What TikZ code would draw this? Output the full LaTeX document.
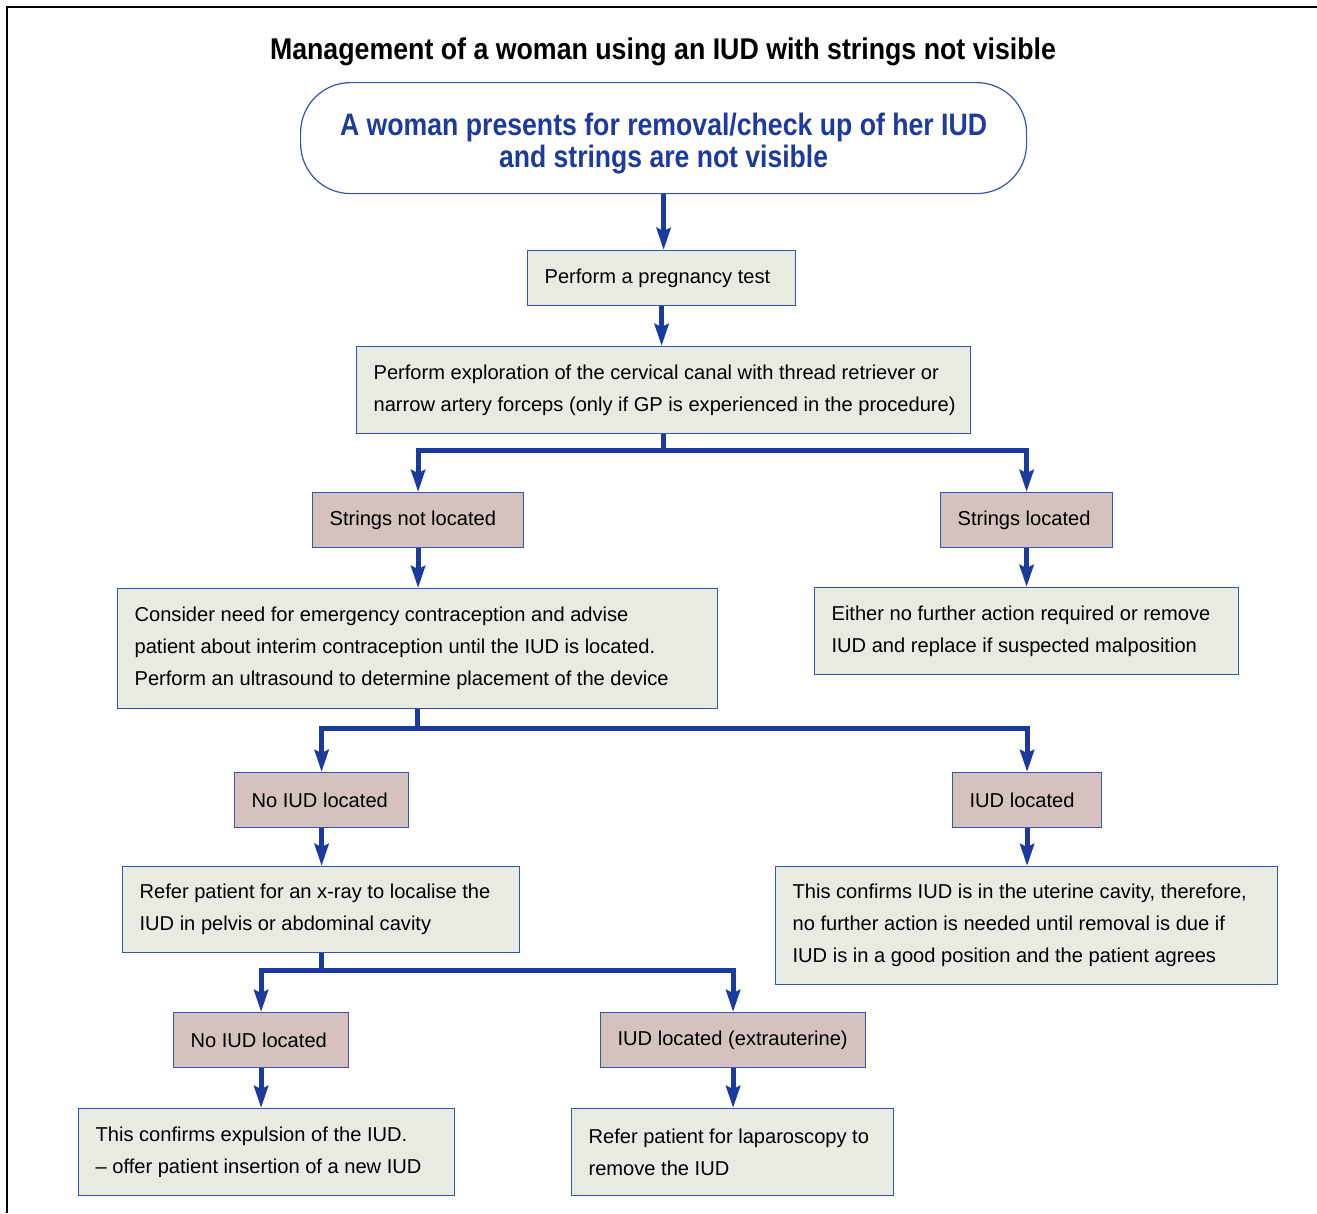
\documentclass[tikz,border=0pt]{standalone}
\usepackage{fontspec}
\setmainfont{Liberation Sans}
\usepackage{graphicx}
\usetikzlibrary{arrows.meta}
\definecolor{lineblue}{HTML}{1B3A9E}
\definecolor{boxline}{HTML}{3355B0}
\definecolor{greenfill}{HTML}{E8EBE2}
\definecolor{pinkfill}{HTML}{D5C2BE}
\definecolor{titleblue}{HTML}{1E3A9C}
\newcommand{\oneline}[1]{\mbox{\spaceskip=0pt\xspaceskip=0pt\relax #1}}
\begin{document}
\begin{tikzpicture}[x=1pt,y=-1pt,
  box/.style={draw=boxline, line width=1.2pt, anchor=north west, align=left,
    inner xsep=17pt, inner ysep=3pt, font=\fontsize{20.1}{32}\selectfont, text=black},
  gbox/.style={box, fill=greenfill},
  pbox/.style={box, fill=pinkfill},
  arr/.style={draw=lineblue, line width=5pt, line join=miter,
    -{Stealth[length=22pt,width=14pt,inset=3pt]}}]
\useasboundingbox (0,0) rectangle (1317,1213);
\draw[line width=1.5pt] (7,1213) -- (7,7) -- (1317,7);

\node[font=\bfseries\fontsize{30}{32}\selectfont] (title) at (663,52)
  {\resizebox{786pt}{\height}{Management of a woman using an IUD with strings not visible}};

\node[draw=boxline, line width=1.2pt, rounded corners=50pt, minimum width=726pt,
  minimum height=111pt, anchor=north west, align=center, text=titleblue,
  font=\bfseries\fontsize{31}{32}\selectfont] (start) at (300,82)
  {\rule{0pt}{33pt}\resizebox{647pt}{\height}{A woman presents for removal/check up of her IUD}\\
   \resizebox{329pt}{\height}{and strings are not visible}};

\node[gbox, text width=234pt, minimum height=55pt] (preg) at (527,250) {\oneline{Perform a pregnancy test}};
\node[gbox, text width=580pt, minimum height=87pt] (expl) at (356,346)
  {\oneline{Perform exploration of the cervical canal with thread retriever or}\\
   \oneline{narrow artery forceps (only if GP is experienced in the procedure)}};
\node[pbox, text width=177pt, minimum height=55pt] (snl) at (312,492) {\oneline{Strings not located}};
\node[pbox, text width=138pt, minimum height=55pt] (sl) at (940,492) {\oneline{Strings located}};
\node[gbox, text width=566pt, minimum height=120pt] (cons) at (117,588)
  {\oneline{Consider need for emergency contraception and advise}\\
   \oneline{patient about interim contraception until the IUD is located.}\\
   \oneline{Perform an ultrasound to determine placement of the device}};
\node[gbox, text width=390pt, minimum height=87pt] (either) at (814,587)
  {\oneline{Either no further action required or remove}\\
   \oneline{IUD and replace if suspected malposition}};
\node[pbox, text width=140pt, minimum height=55pt] (noiud) at (234,772) {\oneline{No IUD located}};
\node[pbox, text width=115pt, minimum height=55pt] (iudl) at (952,772) {\oneline{IUD located}};
\node[gbox, text width=363pt, minimum height=86pt] (xray) at (122,866)
  {\oneline{Refer patient for an x-ray to localise the}\\
   \oneline{IUD in pelvis or abdominal cavity}};
\node[gbox, text width=468pt, minimum height=118pt] (confirm) at (775,866)
  {\oneline{This confirms IUD is in the uterine cavity, therefore,}\\
   \oneline{no further action is needed until removal is due if}\\
   \oneline{IUD is in a good position and the patient agrees}};
\node[pbox, text width=141pt, minimum height=55pt] (noiud2) at (173,1012) {\oneline{No IUD located}};
\node[pbox, text width=231pt, minimum height=55pt] (extra) at (600,1012) {\oneline{IUD located (extrauterine)}};
\node[gbox, text width=342pt, minimum height=87pt] (expul) at (78,1108)
  {\oneline{This confirms expulsion of the IUD.}\\
   \oneline{-- offer patient insertion of a new IUD}};
\node[gbox, text width=288pt, minimum height=87pt] (lap) at (571,1108)
  {\oneline{Refer patient for laparoscopy to}\\
   \oneline{remove the IUD}};

\draw[arr] (start.south) -- (start.south |- preg.north);
\draw[arr] (preg.south) -- (preg.south |- expl.north);
\draw[arr] (expl.south) -- ++(0,16) -| (snl.north);
\draw[arr] (expl.south) -- ++(0,16) -| (sl.north);
\draw[arr] (snl.south) -- (snl.south |- cons.north);
\draw[arr] (sl.south) -- (sl.south |- either.north);
\draw[arr] (cons.south) -- ++(0,19) -| (noiud.north);
\draw[arr] (cons.south) -- ++(0,19) -| (iudl.north);
\draw[arr] (noiud.south) -- (noiud.south |- xray.north);
\draw[arr] (iudl.south) -- (iudl.south |- confirm.north);
\draw[arr] (xray.south) -- ++(0,17) -| (noiud2.north);
\draw[arr] (xray.south) -- ++(0,17) -| (extra.north);
\draw[arr] (noiud2.south) -- (noiud2.south |- expul.north);
\draw[arr] (extra.south) -- (extra.south |- lap.north);
\end{tikzpicture}
\end{document}
